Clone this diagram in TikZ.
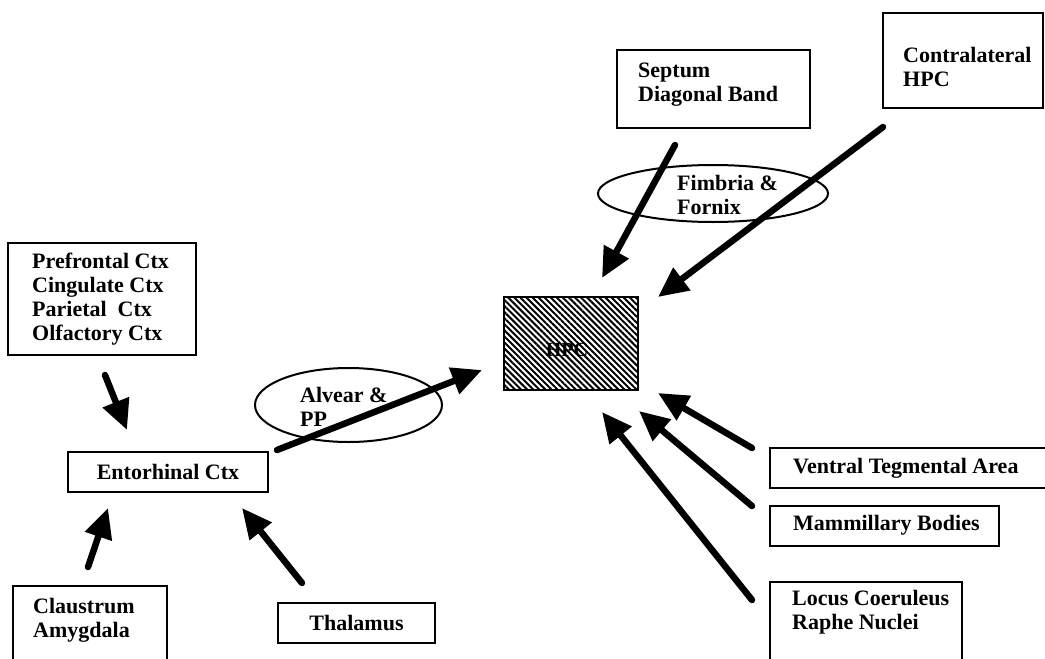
\documentclass[tikz,border=0pt]{standalone}
\usepackage{fontspec}
\setmainfont{Liberation Serif}
\usetikzlibrary{arrows.meta,patterns.meta,shapes.geometric}
\begin{document}
\begin{tikzpicture}[x=1pt,y=-1pt,
  box/.style={draw,line width=2pt,inner sep=0pt},
  lbl/.style={font=\bfseries\fontsize{22}{24}\selectfont,align=left,inner sep=0pt},
  conn/.style={line width=6.5pt,line cap=round,-{Triangle[length=30pt,width=27pt]}},
  oval/.style={draw,ellipse,line width=2pt,inner sep=0pt}]
\useasboundingbox (0,0) rectangle (1045,659);
\clip (0,0) rectangle (1045,659);
\fill[white] (0,0) rectangle (1045,659);

% boxes
\node[box,minimum width=160pt,minimum height=95pt] (contra) at (963,60.5) {};
\node[lbl,anchor=north west] (contraT) at (903,47) {Contralateral\\HPC};

\node[box,minimum width=193pt,minimum height=78pt] (septum) at (713.5,89) {};
\node[lbl,anchor=north west] (septumT) at (638,63) {Septum\\Diagonal Band};

\node[oval,minimum width=230pt,minimum height=57pt] (fimbria) at (713,193.5) {};
\node[lbl,anchor=north west] (fimbriaT) at (677,175) {Fimbria \&\\Fornix};

\node[box,minimum width=134pt,minimum height=93pt,
  pattern={Lines[angle=-45,distance=4.3pt,line width=2pt]}] (hpc) at (571,343.5) {};
\node[font=\bfseries\fontsize{20}{22}\selectfont,inner sep=0pt] (hpcT) at (567,350) {HPC};

\node[box,minimum width=188pt,minimum height=112pt] (pref) at (102,299) {};
\node[lbl,anchor=north west] (prefT) at (32,253) {Prefrontal Ctx\\Cingulate Ctx\\Parietal\ \ Ctx\\Olfactory Ctx};

\node[oval,minimum width=187pt,minimum height=74pt] (alvear) at (348.5,405) {};
\node[lbl,anchor=north west] (alvearT) at (300,387) {Alvear \&\\PP};

\node[box,lbl,minimum width=200pt,minimum height=40pt] (ento) at (168,472) {Entorhinal Ctx};

\node[box,minimum width=154pt,minimum height=90pt] (claus) at (90,631) {};
\node[lbl,anchor=north west] (clausT) at (33,598) {Claustrum\\Amygdala};

\node[box,lbl,minimum width=157pt,minimum height=40pt] (thal) at (356.5,623) {Thalamus};

\node[box,minimum width=280pt,minimum height=40pt] (vta) at (910,468) {};
\node[lbl,anchor=west] (vtaT) at (793,468) {Ventral Tegmental Area};

\node[box,minimum width=229pt,minimum height=40pt] (mamm) at (884.5,526) {};
\node[lbl,anchor=west] (mammT) at (793,525) {Mammillary Bodies};

\node[box,minimum width=192pt,minimum height=90pt] (locus) at (866,627) {};
\node[lbl,anchor=north west] (locusT) at (792,590) {Locus Coeruleus\\Raphe Nuclei};

% connector end points
\coordinate (c1s) at (883,127);  \coordinate (c1e) at (658,297);
\coordinate (c2s) at (675,145);  \coordinate (c2e) at (602,278);
\coordinate (c3s) at (105,375);  \coordinate (c3e) at (127,430);
\coordinate (c4s) at (277,450);  \coordinate (c4e) at (482,370);
\coordinate (c5s) at (88,567);   \coordinate (c5e) at (108,508);
\coordinate (c6s) at (302,583);  \coordinate (c6e) at (242,508);
\coordinate (c7s) at (752,448);  \coordinate (c7e) at (658,393);
\coordinate (c8s) at (752,506);  \coordinate (c8e) at (639,411);
\coordinate (c9s) at (752,600);  \coordinate (c9e) at (602,412);

\draw[conn] (c1s) -- (c1e);
\draw[conn] (c2s) -- (c2e);
\draw[conn] (c3s) -- (c3e);
\draw[conn] (c4s) -- (c4e);
\draw[conn] (c5s) -- (c5e);
\draw[conn] (c6s) -- (c6e);
\draw[conn] (c7s) -- (c7e);
\draw[conn] (c8s) -- (c8e);
\draw[conn] (c9s) -- (c9e);
\end{tikzpicture}
\end{document}
